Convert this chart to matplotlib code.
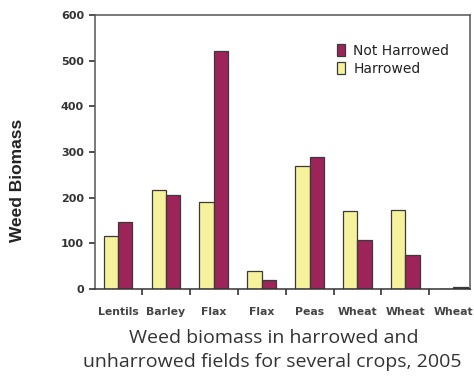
import numpy as np
import matplotlib
matplotlib.use('Agg')
import matplotlib.pyplot as plt

# data
crops = ['Lentils', 'Barley', 'Flax', 'Flax', 'Peas', 'Wheat', 'Wheat', 'Wheat']
harrowed = [116, 217, 190, 39, 269, 171, 174, 0]
not_harrowed = [146, 206, 521, 20, 290, 107, 75, 5]
y_ticks = [0, 100, 200, 300, 400, 500, 600]

W, H = 474, 378
fig = plt.figure(figsize=(W / 100, H / 100), dpi=100, facecolor='white')
ax = fig.add_axes([95 / W, 1 - 289 / H, (470 - 95) / W, (289 - 15) / H])

x = np.arange(len(crops))
bw = 0.3
yellow = '#F6F29C'
maroon = '#9C2459'
edge = '#3a3a3a'
ax.bar(x - bw / 2, harrowed, bw, color=yellow, edgecolor=edge, linewidth=0.9, label='Harrowed')
ax.bar(x + bw / 2, not_harrowed, bw, color=maroon, edgecolor=edge, linewidth=0.9, label='Not Harrowed')

ax.set_xlim(-0.48, 7.35)
ax.set_ylim(0, 600)
ax.set_yticks(y_ticks)
ax.set_yticklabels([str(v) for v in y_ticks], fontsize=8, fontweight='bold',
                   color='#333333', family='DejaVu Sans')
ax.set_xticks(x)
ax.set_xticklabels(crops, fontsize=7.8, fontweight='bold', color='#444444',
                   family='DejaVu Sans')
ax.tick_params(axis='x', which='major', length=0, pad=13)
ax.set_xticks(x[:-1] + 0.5, minor=True)
ax.tick_params(axis='x', which='minor', length=4, width=1.2, color='#333333', direction='out')
ax.tick_params(axis='y', length=4, width=1.2, color='#333333', pad=4)

for s in ax.spines.values():
    s.set_color('#555555')
    s.set_linewidth(1.1)
ax.spines['bottom'].set_color('#333333')

handles, labels = ax.get_legend_handles_labels()
leg = ax.legend(handles[::-1], labels[::-1], loc='upper left', bbox_to_anchor=(236 / 375, 0.915),
                frameon=False, handlelength=0.6, handleheight=0.9,
                handletextpad=0.6, labelspacing=0.3, borderaxespad=0,
                prop={'family': 'DejaVu Sans', 'size': 10})
for t in leg.get_texts():
    t.set_color('#222222')

fig.text(18 / W, 1 - 180 / H, 'Weed Biomass', rotation=90, ha='center', va='center',
         fontsize=12.5, fontweight='bold', family='Liberation Sans', color='#222222')

fig.text(274 / W, 1 - 338 / H, 'Weed biomass in harrowed and', ha='center', va='center',
         fontsize=14, family='Open Sans', color='#333333')
fig.text(272 / W, 1 - 362 / H, 'unharrowed fields for several crops, 2005', ha='center', va='center',
         fontsize=14, family='Open Sans', color='#333333')

fig.savefig('out.png', dpi=100, facecolor='white')
